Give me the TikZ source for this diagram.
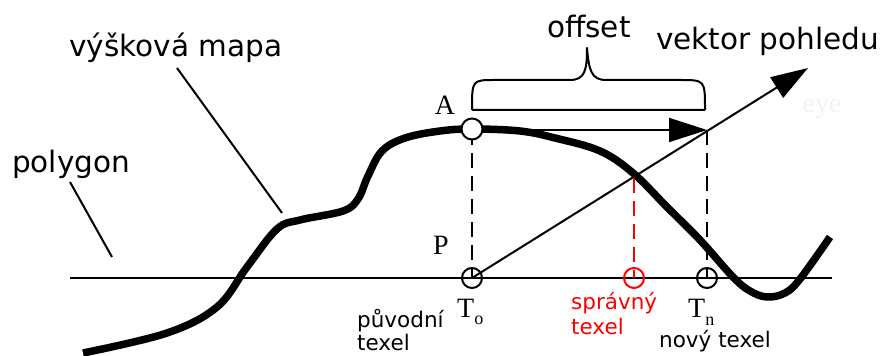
\documentclass[tikz,border=0pt]{standalone}
\usepackage{fontspec}
\setmainfont{Liberation Serif}
\newfontfamily\lblfont{DejaVu Sans}
\usetikzlibrary{arrows.meta}
\begin{document}
\begin{tikzpicture}[x=1pt,y=1pt,
  biglbl/.style={font=\lblfont\fontsize{29.5}{31}\selectfont, inner sep=0pt, anchor=base west},
  smalllbl/.style={font=\lblfont\fontsize{21.5}{23}\selectfont, inner sep=0pt, anchor=base west},
  serlbl/.style={font=\fontsize{28}{30}\selectfont, inner sep=0pt, anchor=base west},
  thin/.style={line width=2pt},
  dashline/.style={line width=2pt, dash pattern=on 15pt off 8pt},
  texelring/.style={circle, draw, line width=2pt, minimum size=20pt, inner sep=0pt},
  bigtip/.style={-{Triangle[length=37pt,width=24pt]}}
]
\useasboundingbox (0,0) rectangle (887,356);

% polygon line
\coordinate (pl) at (70,78);
\coordinate (pr) at (832,78);
\draw[thin] (pl) -- (pr);

% height map
\draw[line width=7.5pt] plot[smooth, tension=0.6] coordinates {
 (83,3) (167,23) (217,49) (247,89) (277,127) (300,136) (343,145) (358,157)
 (368,180) (382,205) (405,218) (440,225) (472,227) (520,225) (555,218)
 (600,205) (633,183) (667,149) (700,116) (733,79) (750,65) (767,59) (785,63)
 (800,77) (830,119)};

% points
\coordinate (T0) at (472,78);
\coordinate (Tr) at (634,78);
\coordinate (Tn) at (707,78);
\coordinate (Hit) at (634,178);
\coordinate (Off) at (707,226);
\coordinate (Eye) at (808,288);

% dashed verticals
\draw[dashline] (472,226) -- (T0);
\draw[dashline] (Off) -- (Tn);
\draw[dashline, red] (Hit) -- (Tr);

% view vector
\draw[thin, bigtip] (T0) -- (Eye);

% A point and offset arrow
\node[texelring, fill=white, minimum size=21pt] (A) at (472,227) {};
\draw[thin, -{Triangle[length=38pt,width=24pt]}] (A.east |- Off) -- (Off);

% texel rings
\node[texelring] (t0) at (T0) {};
\node[texelring, red] (tr) at (Tr) {};
\node[texelring] (tn) at (Tn) {};

% brace
\draw[thin, line join=round] (472,246) -- (705,246)
  (472,246) .. controls (472,276) .. (495,276) -- (570,276)
  .. controls (585,276) and (587,286) .. (587,308)
  .. controls (589,286) and (591,276) .. (606,276) -- (680,276)
  .. controls (705,276) .. (705,246);

% leader lines
\coordinate (polyA) at (70,174);
\coordinate (polyB) at (112,99);
\draw[thin] (polyA) -- (polyB);
\coordinate (mapA) at (177,288);
\coordinate (mapB) at (282,143);
\draw[thin] (mapA) -- (mapB);

% labels
\node[biglbl] (lmap) at (69,299) {výšková mapa};
\node[biglbl] (lpoly) at (12,183) {polygon};
\node[biglbl] (loff) at (547,318) {offset};
\node[biglbl] (lvec) at (656,306) {vektor pohledu};
\node[font=\fontsize{28}{30}\selectfont, inner sep=0pt, anchor=base, text=black!5] (leye) at (822,243) {eye};

\node[serlbl, anchor=base] (lA) at (445,241) {A};
\node[serlbl, anchor=base] (lP) at (441,101) {P};
\node[serlbl] (lT0) at (457,38) {T\raisebox{-7pt}{\fontsize{18}{18}\selectfont o}};
\node[serlbl] (lTn) at (688,38) {T\raisebox{-8pt}{\fontsize{18}{18}\selectfont n}};

\node[smalllbl] (lorig1) at (357,28) {původní};
\node[smalllbl] (lorig2) at (357,5) {texel};
\node[smalllbl, text=red] (lcor1) at (571,46) {správný};
\node[smalllbl, text=red] (lcor2) at (571,21) {texel};
\node[smalllbl] (lnew) at (659,8) {nový texel};
\end{tikzpicture}
\end{document}
